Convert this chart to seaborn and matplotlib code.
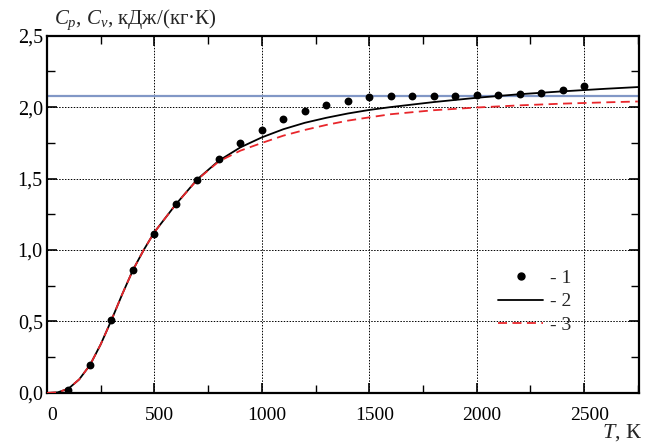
import matplotlib
matplotlib.use("Agg")
import matplotlib.pyplot as plt
import matplotlib.transforms as mtransforms
import seaborn as sns
import pandas as pd
from matplotlib.ticker import MultipleLocator, FuncFormatter
from matplotlib.lines import Line2D

# Measured heat capacity (series 1)
T_points = [100, 200, 300, 400, 500, 600, 700, 800, 900, 1000, 1100, 1200, 1300,
            1400, 1500, 1600, 1700, 1800, 1900, 2000, 2100, 2200, 2300, 2400, 2500]
cp_points = [0.02, 0.195, 0.51, 0.86, 1.115, 1.32, 1.493, 1.635, 1.749, 1.842, 1.916,
             1.974, 2.016, 2.044, 2.067, 2.079, 2.079, 2.079, 2.079, 2.084, 2.084,
             2.09, 2.10, 2.118, 2.146]

# Calculated curves (series 2 and 3)
T_curve = [0, 50, 100, 150, 200, 250, 300, 350, 400, 450, 500, 600, 700, 800, 900,
           1000, 1100, 1200, 1300, 1400, 1500, 1600, 1800, 2000, 2200, 2400, 2600, 2750]
cp_curve2 = [0.0, 0.004, 0.03, 0.095, 0.195, 0.34, 0.51, 0.69, 0.86, 1.0, 1.125, 1.32,
             1.495, 1.625, 1.718, 1.788, 1.845, 1.89, 1.925, 1.955, 1.98, 2.0, 2.035,
             2.065, 2.09, 2.11, 2.128, 2.14]
cp_curve3 = [0.0, 0.004, 0.03, 0.095, 0.195, 0.34, 0.51, 0.69, 0.86, 1.0, 1.125, 1.32,
             1.493, 1.62, 1.695, 1.749, 1.80, 1.84, 1.875, 1.905, 1.928, 1.95, 1.978,
             1.997, 2.012, 2.024, 2.033, 2.039]

cp_limit = 2.08

x_ticks = [0, 500, 1000, 1500, 2000, 2500]
y_ticks = [0.0, 0.5, 1.0, 1.5, 2.0, 2.5]

sns.set_style("ticks")
plt.rcParams["font.family"] = ["Liberation Serif", "DejaVu Serif"]
plt.rcParams["mathtext.fontset"] = "custom"
plt.rcParams["mathtext.rm"] = "Liberation Serif"
plt.rcParams["mathtext.it"] = "Liberation Serif:italic"

df_pts = pd.DataFrame({"T": T_points, "cp": cp_points})
df_cur = pd.DataFrame({"T": T_curve, "c2": cp_curve2, "c3": cp_curve3})

fig = plt.figure(figsize=(6.5, 4.45), dpi=100)
ax = fig.add_axes([0.0723, 0.117, 0.9107, 0.803])

ax.axhline(cp_limit, color="#8197c6", lw=1.6, zorder=1)
sns.lineplot(data=df_cur, x="T", y="c2", ax=ax, color="black", lw=1.3, zorder=3)
sns.lineplot(data=df_cur, x="T", y="c3", ax=ax, color="#e8262b", lw=1.3, zorder=4,
             dashes=False, linestyle=(0, (5, 3)))
sns.scatterplot(data=df_pts, x="T", y="cp", ax=ax, color="black", s=32,
                edgecolor="black", linewidth=0, zorder=5)

ax.set_xlim(0, 2755)
ax.set_ylim(0, 2.5)
ax.set_xticks(x_ticks)
ax.set_yticks(y_ticks)
ax.xaxis.set_minor_locator(MultipleLocator(250))
ax.yaxis.set_minor_locator(MultipleLocator(0.25))
ax.yaxis.set_major_formatter(FuncFormatter(lambda v, p: f"{v:.1f}".replace(".", ",")))
ax.grid(True, which="major", color="black", linestyle=(0, (1.5, 1.5)), lw=0.7, zorder=0)
ax.tick_params(which="both", direction="in", top=True, right=True, colors="black")
ax.tick_params(which="major", length=7, width=1.2)
ax.tick_params(which="minor", length=6, width=1.0)
ax.tick_params(axis="x", pad=10, labelsize=14)
ax.tick_params(axis="y", pad=3, labelsize=14.5)
for s in ax.spines.values():
    s.set_visible(True)
    s.set_color("black")
    s.set_linewidth(1.6)
ax.set_xlabel("")
ax.set_ylabel("")

# nudge the temperature labels slightly to the right of their ticks
shift = mtransforms.ScaledTranslation(5 / 100, 0, fig.dpi_scale_trans)
for lbl in ax.get_xticklabels():
    lbl.set_transform(lbl.get_transform() + shift)

fig.text(0.083, 0.945, r"$C_p$, $C_v$, кДж/(кг·К)", fontsize=15, ha="left",
         va="baseline")
fig.text(0.988, 0.016, r"$T$, К", fontsize=16, ha="right", va="baseline")

handles = [
    Line2D([], [], marker="o", color="black", ls="none", markersize=5),
    Line2D([], [], color="black", lw=1.3),
    Line2D([], [], color="#e8262b", lw=1.3, linestyle=(0, (5, 3))),
]
ax.legend(handles, ["- 1", "- 2", "- 3"], loc="upper left",
          bbox_to_anchor=(0.733, 0.395), frameon=False, fontsize=14,
          handlelength=2.3, handletextpad=0.35, labelspacing=0.3)

fig.savefig("out.png", dpi=100)
